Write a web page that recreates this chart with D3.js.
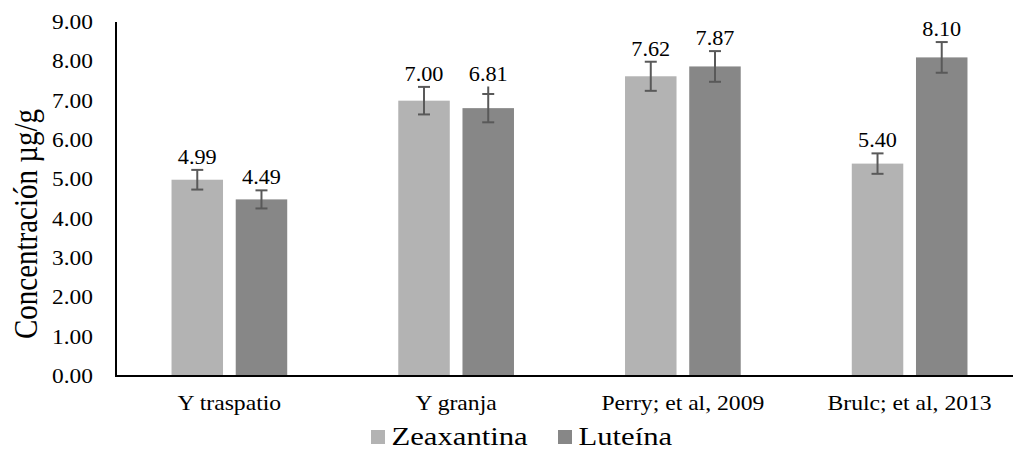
<!DOCTYPE html>
<html>
<head>
<meta charset="utf-8">
<script src="https://cdn.jsdelivr.net/npm/d3@7"></script>
<style>
  html, body { margin: 0; padding: 0; background: #fff; }
  svg { display: block; }
  text { font-family: "Liberation Serif", "Times New Roman", serif; fill: #000; }
</style>
</head>
<body>
<svg id="chart" width="1013" height="449"></svg>
<script>
// Categories and series
const categories = ["Y traspatio", "Y granja", "Perry; et al, 2009", "Brulc; et al, 2013"];
const seriesNames = ["Zeaxantina", "Luteína"];
const zeaxantina = [4.99, 7.00, 7.62, 5.40];
const luteina = [4.49, 6.81, 7.87, 8.10];
// Error bar half-widths (caps), and the whisker top where it runs past the cap
const zeaxantinaErr = [0.25, 0.35, 0.37, 0.26];
const luteinaErr = [0.23, 0.36, 0.39, 0.39];
const luteinaWhiskerUp = [0.23, 0.55, 0.39, 0.39];
const yTicks = [0, 1, 2, 3, 4, 5, 6, 7, 8, 9];
const yTitle = "Concentración µg/g";

const colors = { "Zeaxantina": "#b3b3b3", "Luteína": "#878787" };
const errColor = "#595959";

const svg = d3.select("#chart");

const plotLeft = 116, plotRight = 1023, plotTop = 22, plotBottom = 376;

const y = d3.scaleLinear().domain([0, 9]).range([plotBottom, plotTop]);
const x0 = d3.scaleBand().domain(categories).range([plotLeft, plotRight]).padding(0);
const groupW = 115.7;
const x1 = d3.scaleBand().domain(seriesNames)
  .range([(x0.bandwidth() - groupW) / 2, (x0.bandwidth() + groupW) / 2])
  .paddingInner(0.198).paddingOuter(0);

const rows = [];
categories.forEach((c, i) => {
  rows.push({ cat: c, s: "Zeaxantina", v: zeaxantina[i], e: zeaxantinaErr[i], up: zeaxantinaErr[i] });
  rows.push({ cat: c, s: "Luteína", v: luteina[i], e: luteinaErr[i], up: luteinaWhiskerUp[i] });
});

// Bars
svg.append("g").selectAll("rect").data(rows).join("rect")
  .attr("x", d => x0(d.cat) + x1(d.s))
  .attr("y", d => y(d.v))
  .attr("width", x1.bandwidth())
  .attr("height", d => y(0) - y(d.v))
  .attr("fill", d => colors[d.s]);

// Error bars
const eg = svg.append("g").attr("stroke", errColor).attr("stroke-width", 2).attr("fill", "none");
rows.forEach(d => {
  const cx = x0(d.cat) + x1(d.s) + x1.bandwidth() / 2;
  const y1 = y(d.v + d.e), y2 = y(d.v - d.e);
  eg.append("line").attr("x1", cx).attr("x2", cx).attr("y1", y(d.v + d.up)).attr("y2", y2);
  eg.append("line").attr("x1", cx - 6).attr("x2", cx + 6).attr("y1", y1).attr("y2", y1);
  eg.append("line").attr("x1", cx - 6).attr("x2", cx + 6).attr("y1", y2).attr("y2", y2);
});

// Value labels (slightly widened serif type)
svg.append("g").selectAll("text").data(rows).join("text")
  .attr("transform", d => `translate(${x0(d.cat) + x1(d.s) + x1.bandwidth() / 2},${y(d.v + d.up) - 6}) scale(1.06,1)`)
  .attr("text-anchor", "middle")
  .attr("font-size", 21)
  .text(d => d.v.toFixed(2));

// Y axis
const tickScaleX = 1.17;
const yAxis = d3.axisLeft(y).tickValues(yTicks).tickFormat(d3.format(".2f")).tickSize(0).tickPadding(23 / tickScaleX);
const yg = svg.append("g").attr("transform", `translate(${plotLeft},0)`).call(yAxis);
yg.select(".domain").remove();
yg.selectAll("text").attr("font-size", 20).attr("fill", "#000").attr("transform", `scale(${tickScaleX},1)`);
svg.append("line").attr("x1", plotLeft).attr("x2", plotLeft).attr("y1", plotTop).attr("y2", plotBottom)
  .attr("stroke", "#000").attr("stroke-width", 2);

// X axis
const xAxis = d3.axisBottom(x0).tickSize(0).tickPadding(19);
const xg = svg.append("g").attr("transform", `translate(0,${plotBottom})`).call(xAxis);
xg.select(".domain").remove();
xg.selectAll("text").attr("font-size", 21.5).attr("fill", "#000").attr("transform", "scale(1.1,1)");
svg.append("line").attr("x1", plotLeft - 1).attr("x2", 1013).attr("y1", plotBottom).attr("y2", plotBottom)
  .attr("stroke", "#000").attr("stroke-width", 2);

// Y title
svg.append("text")
  .attr("transform", `translate(37,224) scale(1.18,1) rotate(-90)`)
  .attr("text-anchor", "middle")
  .attr("font-size", 29)
  .text(yTitle);

// Legend
const legendX = [371, 558];
const lg = svg.append("g");
seriesNames.forEach((s, i) => {
  lg.append("rect").attr("x", legendX[i]).attr("y", 430).attr("width", 14).attr("height", 14).attr("fill", colors[s]);
  lg.append("text").attr("transform", `translate(${legendX[i] + 20.5},445) scale(1.18,1)`)
    .attr("font-size", 26).text(s);
});
</script>
</body>
</html>
